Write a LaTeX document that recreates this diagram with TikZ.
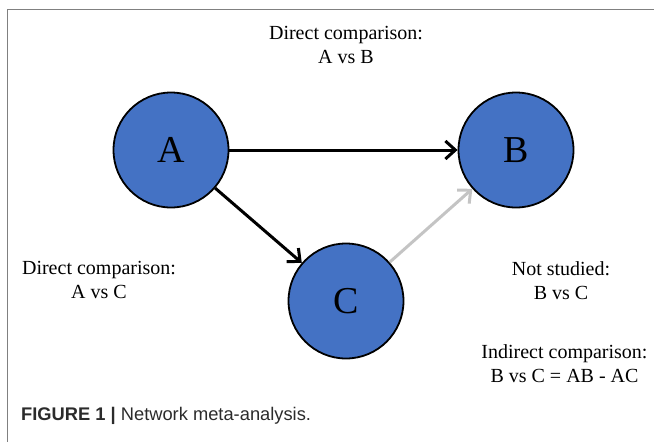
\documentclass[tikz,border=0pt]{standalone}
\usepackage{fontspec}
\setmainfont{Liberation Serif}
\newfontfamily\capfont{Liberation Sans}
\usetikzlibrary{arrows.meta}
\definecolor{nodeblue}{HTML}{4472C4}
\definecolor{framegray}{HTML}{808080}
\definecolor{lightarrow}{HTML}{C4C4C4}
\definecolor{captext}{HTML}{2B2B2B}
\tikzset{
  trt/.style={circle, draw=black, line width=1.8pt, fill=nodeblue, minimum size=115pt, inner sep=0pt, font=\fontsize{38}{40}\selectfont},
  lbl/.style={align=center, inner sep=0pt, font=\fontsize{20}{24}\selectfont},
  direct/.style={draw=black, line width=3pt, -{Straight Barb[length=10pt,width=18pt,line width=3pt]}},
  indirect/.style={draw=lightarrow, line width=3pt, -{Straight Barb[length=10pt,width=18pt,line width=3pt]}},
  frame/.style={draw=framegray, line width=1.5pt}
}
\begin{document}
\begin{tikzpicture}[x=1pt,y=-1pt]
\useasboundingbox (0,0) rectangle (654,442);
\coordinate (fl) at (7.5,442);
\coordinate (fc) at (7.5,9.5);
\coordinate (fr) at (654,9.5);
\draw[frame] (fl) -- (fc) -- (fr);
\node[trt] (A) at (171,150) {A};
\node[trt] (B) at (516,150) {B};
\node[trt] (C) at (346,301) {C};
\draw[direct] (A) -- (B);
\draw[direct] (A) -- (C);
\draw[indirect] (C) -- (B);
\node[lbl] (tAB) at (346,45) {Direct comparison:\\A vs B};
\node[lbl] (tAC) at (99,280) {Direct comparison:\\A vs C};
\node[lbl] (tBC) at (561,281) {Not studied:\\B vs C};
\node[lbl] (tInd) at (564.5,364) {Indirect comparison:\\B vs C = AB - AC};
\node[anchor=base west, inner sep=0pt, text=captext, font=\capfont\fontsize{18.3}{20}\selectfont] (cap) at (21,420) {\textbf{FIGURE 1 |} Network meta-analysis.};
\end{tikzpicture}
\end{document}
